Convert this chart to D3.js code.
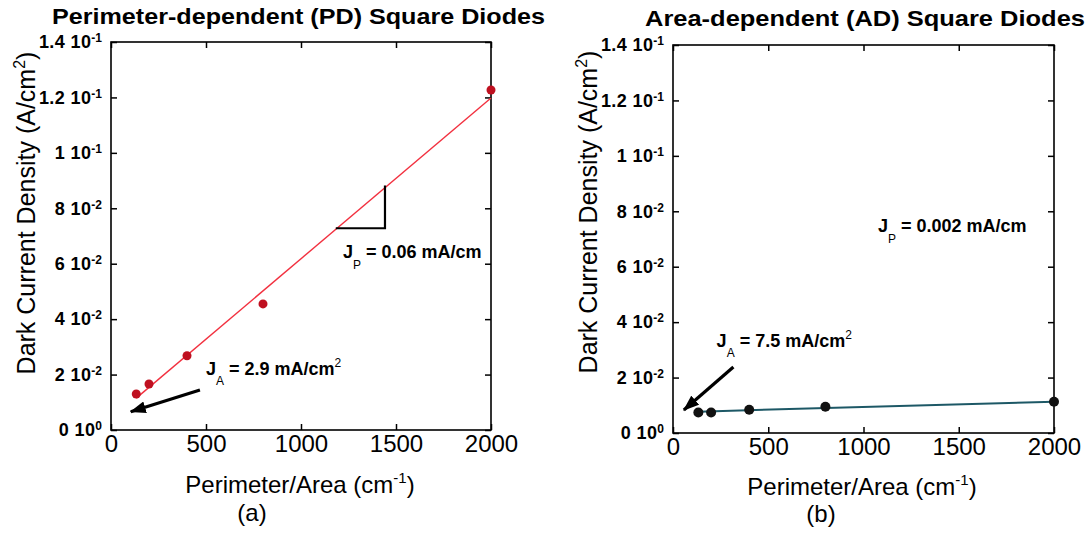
<!DOCTYPE html>
<html>
<head>
<meta charset="utf-8">
<script src="https://cdn.jsdelivr.net/npm/d3@7"></script>
<style>
  body { margin: 0; background: #fff; }
  text { font-family: "Liberation Sans", Arial, Helvetica, sans-serif; fill: #000; }
</style>
</head>
<body>
<svg></svg>
<script>
// dark current density vs perimeter/area, two panels (PD and AD square diodes)
const width = 1088;
const height = 539;

const xTicks = [0, 500, 1000, 1500, 2000];
const yTicks = [0, 0.02, 0.04, 0.06, 0.08, 0.10, 0.12, 0.14];

// (a) perimeter-dependent diodes
const pdX = [133, 200, 400, 800, 2000];
const pdY = [0.0130, 0.0166, 0.0268, 0.0455, 0.1227];
const pdFitX = [133, 2000];
const pdFitY = [0.0115, 0.1198];

// (b) area-dependent diodes
const adX = [133, 200, 400, 800, 2000];
const adY = [0.0074, 0.0074, 0.0084, 0.0095, 0.0113];
const adFitX = [133, 2000];
const adFitY = [0.0077, 0.0113];

const svg = d3.select("svg")
  .attr("width", width)
  .attr("height", height);

svg.append("rect").attr("width", width).attr("height", height).attr("fill", "#fff");

// arrow head marker
svg.append("defs").append("marker")
  .attr("id", "arrow")
  .attr("markerUnits", "userSpaceOnUse")
  .attr("markerWidth", 16)
  .attr("markerHeight", 12)
  .attr("refX", 15)
  .attr("refY", 6)
  .attr("orient", "auto")
  .append("path")
  .attr("d", "M0,0 L16,6 L0,12 Z")
  .attr("fill", "#000");

// split a tick value into mantissa and power of ten, e.g. 0.12 -> ["1.2", "-1"]
function sciParts(v) {
  if (v === 0) return ["0", "0"];
  const e = Math.floor(Math.log10(v) + 1e-9);
  const m = +(v / Math.pow(10, e)).toFixed(1);
  return [String(m), String(e)];
}

function makePanel(p) {
  const g = svg.append("g");
  const x = d3.scaleLinear().domain([0, 2000]).range([p.left, p.right]);
  const y = d3.scaleLinear().domain([0, 0.14]).range([p.bottom, p.top]);

  // frame
  g.append("rect")
    .attr("x", p.left).attr("y", p.top)
    .attr("width", p.right - p.left).attr("height", p.bottom - p.top)
    .attr("fill", "none").attr("stroke", "#000").attr("stroke-width", 1.6);

  // bottom axis, ticks pointing in
  const xb = g.append("g")
    .attr("transform", `translate(0,${p.bottom})`)
    .call(d3.axisBottom(x).tickValues(xTicks).tickSize(-6).tickPadding(5).tickFormat(d3.format("d")));
  xb.select(".domain").remove();
  xb.selectAll(".tick line").attr("stroke-width", 1.5);
  xb.selectAll(".tick text").style("font-size", "24px");

  // top axis, ticks only
  const xt = g.append("g")
    .attr("transform", `translate(0,${p.top})`)
    .call(d3.axisTop(x).tickValues(xTicks).tickSize(-6).tickFormat(""));
  xt.select(".domain").remove();
  xt.selectAll(".tick line").attr("stroke-width", 1.5);

  // left axis with "m 10^e" labels
  const yl = g.append("g")
    .attr("transform", `translate(${p.left},0)`)
    .call(d3.axisLeft(y).tickValues(yTicks).tickSize(-6).tickPadding(9));
  yl.select(".domain").remove();
  yl.selectAll(".tick line").attr("stroke-width", 1.5);
  yl.selectAll(".tick text").each(function(d) {
    const t = d3.select(this).text(null)
      .style("font-size", "18px").style("font-weight", "bold").style("letter-spacing", "0.4px");
    const [m, e] = sciParts(d);
    t.append("tspan").text(m + " 10");
    t.append("tspan").attr("dy", "-0.5em").style("font-size", "12px").style("letter-spacing", "0").text(e);
  });

  // right axis, ticks only
  const yr = g.append("g")
    .attr("transform", `translate(${p.right},0)`)
    .call(d3.axisRight(y).tickValues(yTicks).tickSize(-6).tickFormat(""));
  yr.select(".domain").remove();
  yr.selectAll(".tick line").attr("stroke-width", 1.5);

  // fit line
  g.append("path")
    .datum(d3.zip(p.fitX, p.fitY))
    .attr("d", d3.line().x(d => x(d[0])).y(d => y(d[1])))
    .attr("fill", "none")
    .attr("stroke", p.lineColor)
    .attr("stroke-width", p.lineWidth);

  // measured points
  g.selectAll(".pt")
    .data(d3.zip(p.xs, p.ys))
    .enter().append("circle")
    .attr("cx", d => x(d[0]))
    .attr("cy", d => y(d[1]))
    .attr("r", p.r)
    .attr("fill", p.pointColor);

  // arrow pointing at the intercept
  const [a0, a1] = [[x(p.arrow[0]), y(p.arrow[1])], [x(p.arrow[2]), y(p.arrow[3])]];
  g.append("line")
    .attr("x1", a0[0]).attr("y1", a0[1])
    .attr("x2", a1[0]).attr("y2", a1[1])
    .attr("stroke", "#000").attr("stroke-width", 3.2)
    .attr("marker-end", "url(#arrow)");

  // J_A label
  const ja = g.append("text")
    .attr("x", x(p.jaPos[0])).attr("y", y(p.jaPos[1]))
    .style("font-size", "18px").style("font-weight", "bold");
  ja.append("tspan").text("J");
  ja.append("tspan").attr("dy", 10).style("font-size", "12px").style("font-weight", "normal").text("A");
  ja.append("tspan").attr("dy", -10).text(` = ${p.jaText} mA/cm`);
  ja.append("tspan").attr("dy", -8).style("font-size", "12px").style("font-weight", "normal").text("2");

  // J_P label
  const jp = g.append("text")
    .attr("x", x(p.jpPos[0])).attr("y", y(p.jpPos[1]))
    .style("font-size", "18px").style("font-weight", "bold");
  jp.append("tspan").text("J");
  jp.append("tspan").attr("dy", 11).style("font-size", "12px").style("font-weight", "normal").text("P");
  jp.append("tspan").attr("dy", -11).text(` = ${p.jpText} mA/cm`);

  // slope triangle
  if (p.slope) {
    const [sx0, sx1, sy0, sy1] = p.slope;
    g.append("path")
      .attr("d", `M${x(sx0)},${y(sy0)} L${x(sx1)},${y(sy0)} L${x(sx1)},${y(sy1)}`)
      .attr("fill", "none").attr("stroke", "#000").attr("stroke-width", 2.2);
  }

  // titles
  svg.append("text")
    .attr("x", p.titleX).attr("y", p.titleY)
    .attr("textLength", p.titleLen).attr("lengthAdjust", "spacingAndGlyphs")
    .style("font-size", "22px").style("font-weight", "bold")
    .text(p.title);

  const yt = svg.append("text")
    .attr("transform", `translate(${p.yTitleX},${p.yTitleY}) rotate(-90)`)
    .attr("text-anchor", "middle")
    .style("font-size", "25px");
  yt.append("tspan").text("Dark Current Density (A/cm");
  yt.append("tspan").attr("dy", -10).style("font-size", "16px").text("2");
  yt.append("tspan").attr("dy", 10).text(")");

  const xtl = svg.append("text")
    .attr("x", p.xTitleX).attr("y", p.xTitleY)
    .attr("text-anchor", "middle")
    .style("font-size", "24px");
  xtl.append("tspan").text("Perimeter/Area (cm");
  xtl.append("tspan").attr("dy", -10).style("font-size", "15px").text("-1");
  xtl.append("tspan").attr("dy", 10).text(")");

  svg.append("text")
    .attr("x", p.tagX).attr("y", p.tagY)
    .attr("text-anchor", "middle")
    .style("font-size", "24px")
    .text(p.tag);
}

makePanel({
  left: 111, right: 491, top: 42, bottom: 430,
  xs: pdX, ys: pdY, fitX: pdFitX, fitY: pdFitY,
  pointColor: "#bf1020", r: 4.5, lineColor: "#f2303f", lineWidth: 1.4,
  arrow: [468, 0.0144, 104, 0.0066],
  jaPos: [500, 0.0198], jaText: "2.9",
  jpPos: [1221, 0.0621], jpText: "0.06",
  slope: [1183, 1442, 0.0728, 0.0882],
  title: "Perimeter-dependent (PD) Square Diodes", titleX: 52, titleY: 24, titleLen: 493,
  yTitleX: 35, yTitleY: 213,
  xTitleX: 300, xTitleY: 493,
  tag: "(a)", tagX: 252, tagY: 521
});

makePanel({
  left: 673, right: 1054, top: 45, bottom: 433,
  xs: adX, ys: adY, fitX: adFitX, fitY: adFitY,
  pointColor: "#111", r: 5, lineColor: "#1d5866", lineWidth: 2,
  arrow: [317, 0.0238, 57, 0.0083],
  jaPos: [229, 0.0311], jaText: "7.5",
  jpPos: [1076, 0.0726], jpText: "0.002",
  slope: null,
  title: "Area-dependent (AD) Square Diodes", titleX: 645, titleY: 26, titleLen: 440,
  yTitleX: 597, yTitleY: 212,
  xTitleX: 862, xTitleY: 495,
  tag: "(b)", tagX: 821, tagY: 522
});
</script>
</body>
</html>
